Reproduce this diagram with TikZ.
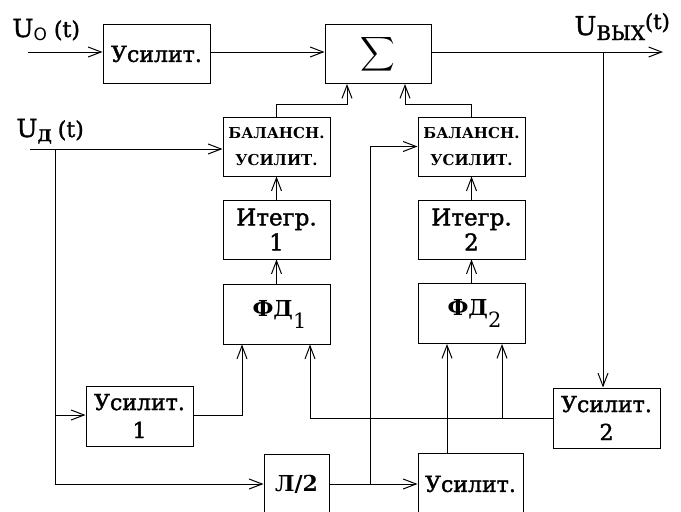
\documentclass[tikz,border=0pt]{standalone}
\usepackage{fontspec}
\setmainfont{DejaVu Serif}
\setsansfont{DejaVu Sans}
\newfontfamily\semib{DejaVu Serif}[FakeBold=1.6]
\usetikzlibrary{arrows.meta,calc}
\newcommand{\fs}[1]{\fontsize{#1}{#1}\selectfont}
\begin{document}
\begin{tikzpicture}[x=1pt,y=-1pt,line width=1pt,
  blk/.style={draw,rectangle,inner sep=0pt,minimum width=107pt,minimum height=59pt,align=center,font=\semib\fontsize{22}{28}\selectfont},
  balbox/.style={blk,font=\bfseries\fontsize{15}{27}\selectfont},
  intbox/.style={blk,font=\semib\fontsize{23}{25}\selectfont},
  lbl/.style={inner sep=0pt,anchor=base west},
  arr/.style={-{Straight Barb[length=13pt,width=10pt,line width=1pt]}}]
\useasboundingbox (0,0) rectangle (681,512);
\clip (0,0) rectangle (681,512);
% blocks
\node[blk] (amp0) at (156.5,54) {Усилит.};
\node[blk,minimum width=106pt] (sum) at (378,54) {\scalebox{2.4}{$\displaystyle\sum$}};
\node[balbox] (bal1) at (276.5,146.5) {БАЛАНСН.\\УСИЛИТ.};
\node[balbox] (bal2) at (471.5,146.5) {БАЛАНСН.\\УСИЛИТ.};
\node[intbox] (int1) at (276.5,229.5) {Итегр.\\1};
\node[intbox] (int2) at (471.5,229.5) {Итегр.\\2};
\node[blk,minimum height=60pt,font=\bfseries\fontsize{22}{28}\selectfont] (fd1) at (276.5,314) {\hspace{6pt}ФД\raisebox{-12pt}{\mdseries\fs{21}1}};
\node[blk,minimum height=60pt,font=\bfseries\fontsize{22}{28}\selectfont] (fd2) at (471.5,313.5) {\hspace{6pt}ФД\raisebox{-12pt}{\mdseries\fs{21}2}};
\node[blk,minimum height=60pt] (amp1) at (139.5,416) {Усилит.\\1};
\node[blk,minimum height=60pt] (amp2) at (606.5,418) {Усилит.\\2};
\node[blk,minimum width=65pt,minimum height=60pt,font=\bfseries\fontsize{22}{28}\selectfont] (ph) at (296.5,484) {Л/2};
\node[blk,minimum width=105pt,minimum height=62pt] (amp3) at (470.5,484) {Усилит.};
% labels
\node[lbl] (lu0) at (12,37) {\semib\fs{25}U\raisebox{-3pt}{\sffamily\fs{17}O}\hspace{7pt}\semib\fs{22}(t)};
\node[lbl] (lud) at (16,137) {\semib\fs{25}U\raisebox{-4pt}{\bfseries\fs{16}Д}\hspace{6pt}\semib\fs{22}(t)};
\node[lbl] (luv) at (574,35) {\semib\fs{26}U\raisebox{-5pt}{\fs{20}ВЫХ}\raisebox{6pt}{\fs{21}(t)}};
% coordinates
\coordinate (in0) at (28,52);
\coordinate (out) at (663,52);
\coordinate (tap) at (603,52);
\coordinate (ind) at (30,149);
\coordinate (j1) at (55,149);
\coordinate (j3) at (55,415);
\coordinate (j2) at (55,484);
\coordinate (j4) at (370,484);
\coordinate (s1) at ($(sum.south)+(-31,0)$);
\coordinate (s2) at ($(sum.south)+(27,0)$);
\coordinate (s1b) at ($(s1)+(0,20)$);
\coordinate (s2b) at ($(s2)+(0,20)$);
\coordinate (f1a) at ($(fd1.south)+(-34.5,0)$);
\coordinate (f1b) at ($(fd1.south)+(33.5,0)$);
\coordinate (f2a) at ($(fd2.south)+(-24.5,0)$);
\coordinate (f2b) at ($(fd2.south)+(30.5,0)$);
% connectors
\draw[arr] (in0) -- (in0 -| amp0.west);
\draw[arr] (amp0.east |- in0) -- (sum.west |- in0);
\draw[arr] (sum.east |- out) -- (out);
\draw[arr] (tap) -- (tap |- amp2.north);
\draw[arr] (ind) -- (ind -| bal1.west);
\draw (j1) -- (j2);
\draw[arr] (j3) -- (j3 -| amp1.west);
\draw[arr] (j2) -- (ph.west);
\draw[arr] (amp1.east |- j3) -| (f1a);
\draw[arr] (fd1.north) -- (int1.south);
\draw[arr] (int1.north) -- (bal1.south);
\draw[arr] (bal1.north) |- (s1b) -- (s1);
\draw[arr] (fd2.north) -- (int2.south);
\draw[arr] (int2.north) -- (bal2.south);
\draw[arr] (bal2.north) |- (s2b) -- (s2);
\draw[arr] (ph.east) -- (amp3.west);
\draw[arr] (j4) |- (bal2.west);
\draw[arr] (amp3.north -| f2a) -- (f2a);
\draw[arr] (amp2.west) -| (f1b);
\draw[arr] (f2b |- amp2.west) -- (f2b);
\end{tikzpicture}
\end{document}
